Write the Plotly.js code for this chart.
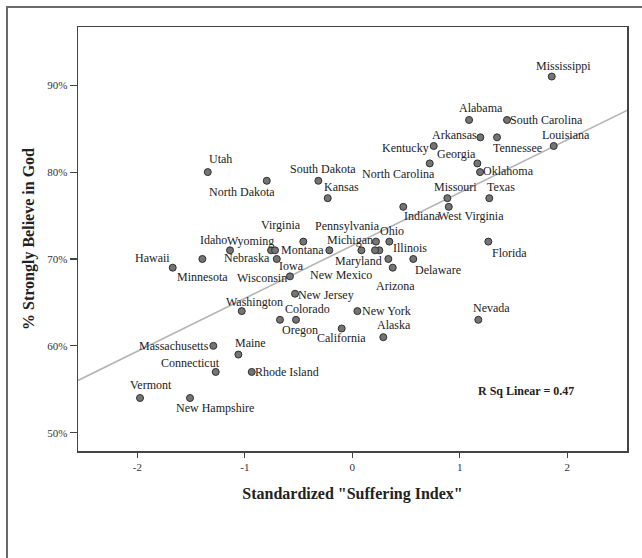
<!DOCTYPE html>
<html>
<head>
<meta charset="utf-8">
<script src="https://cdn.plot.ly/plotly-3.0.1.min.js"></script>
<style>
  html, body { margin: 0; padding: 0; background: #fff; }
  #wrap { position: relative; width: 642px; height: 558px; overflow: hidden; }
  #frame { position: absolute; left: 6px; top: 6px; width: 700px; height: 700px;
           border-left: 2px solid #6a6a6a; border-top: 2px solid #6a6a6a; pointer-events: none; z-index: 2; }
  #chart { position: absolute; left: 0; top: 0; width: 642px; height: 558px; }
</style>
</head>
<body>
<div id="wrap"><div id="chart"></div><div id="frame"></div></div>
<script>
// ---- data ----
const states = ["Mississippi","Alabama","South Carolina","Arkansas","Tennessee","Louisiana","Kentucky","North Carolina","Georgia","Oklahoma",
  "South Dakota","Kansas","Missouri","Texas","Indiana","West Virginia","Utah","North Dakota","Virginia","Idaho",
  "Wyoming","Nebraska","Iowa","Montana","Hawaii","Minnesota","Wisconsin","Washington","Colorado","Oregon",
  "New Jersey","New York","Alaska","California","Nevada","Florida","Pennsylvania","Ohio","Michigan","Illinois",
  "New Mexico","Maryland","Arizona","Delaware","Massachusetts","Maine","Connecticut","Rhode Island","Vermont","New Hampshire"];
const sufferingIndex = [1.855,1.086,1.439,1.191,1.346,1.873,0.757,0.720,1.163,1.188,
  -0.316,-0.229,0.884,1.274,0.474,0.897,-1.345,-0.796,-0.456,-1.138,
  -0.756,-0.719,-0.703,-0.214,-1.671,-1.395,-0.580,-1.029,-0.524,-0.673,
  -0.533,0.047,0.288,-0.099,1.172,1.265,0.220,0.344,0.084,0.251,
  0.211,0.335,0.376,0.567,-1.293,-1.060,-1.271,-0.936,-1.975,-1.510];
const believeGod = [91,86,86,84,84,83,83,81,81,80,
  79,77,77,77,76,76,80,79,72,71,
  71,71,70,71,69,70,68,64,63,63,
  66,64,61,62,63,72,72,72,71,71,
  71,70,69,70,60,59,57,57,54,54];
const yTickVals = [50,60,70,80,90];
const yTickLabels = ["50%","60%","70%","80%","90%"];
const xTickVals = [-2,-1,0,1,2];
const xTickLabels = ["-2","-1","0","1","2"];
const rSqText = "R Sq Linear = 0.47";

// ---- styling: label placement offsets (px, right / down) ----
const labelOffset = {
  "Mississippi":[12,-11],"Alabama":[12,-12],"South Carolina":[39,0],"Arkansas":[-26,-2],"Tennessee":[20,11],
  "Louisiana":[12,-11],"Kentucky":[-28,2],"North Carolina":[-31,11],"Georgia":[-21,-9],"Oklahoma":[28,-1],
  "South Dakota":[5,-12],"Kansas":[14,-11],"Missouri":[8,-11],"Texas":[12,-11],"Indiana":[19,9],
  "West Virginia":[22,9],"Utah":[13,-13],"North Dakota":[-25,11],"Virginia":[-22,-17],"Idaho":[-17,-10],
  "Wyoming":[-21,-9],"Nebraska":[-28,8],"Iowa":[15,7],"Montana":[-27,0],"Hawaii":[-20,-10],
  "Minnesota":[0,18],"Wisconsin":[-28,2],"Washington":[13,-9],"Colorado":[11,-11],"Oregon":[20,10],
  "New Jersey":[31,1],"New York":[29,0],"Alaska":[11,-12],"California":[0,10],"Nevada":[13,-12],
  "Florida":[21,11],"Pennsylvania":[-28,-16],"Ohio":[3,-11],"Michigan":[-11,-10],"Illinois":[31,-2],
  "New Mexico":[-34,25],"Maryland":[-30,2],"Arizona":[3,18],"Delaware":[25,11],"Massachusetts":[-39,0],
  "Maine":[12,-12],"Connecticut":[-25,-9],"Rhode Island":[35,0],"Vermont":[11,-13],"New Hampshire":[25,10]
};

const xRange = [-2.552, 2.555];
const yRange = [47.9, 96.7];

// least-squares fit line computed from the data
const n = sufferingIndex.length;
const mx = sufferingIndex.reduce((a,b)=>a+b,0)/n;
const my = believeGod.reduce((a,b)=>a+b,0)/n;
let sxy = 0, sxx = 0;
for (let i=0;i<n;i++){ sxy += (sufferingIndex[i]-mx)*(believeGod[i]-my); sxx += (sufferingIndex[i]-mx)**2; }
const slope = sxy/sxx, intercept = my - slope*mx;
const fitX = xRange.slice();
const fitY = fitX.map(x => intercept + slope*x);

const serif = "Liberation Serif, Times New Roman, serif";

const traces = [
  { x: fitX, y: fitY, mode: "lines", type: "scatter", line: {color: "#b4b4b4", width: 1.6}, hoverinfo: "skip", showlegend: false },
  { x: sufferingIndex, y: believeGod, text: states, mode: "markers", type: "scatter",
    marker: {size: 7, color: "#747474", line: {color: "#303030", width: 1}}, showlegend: false }
];

const annotations = states.map((s,i) => ({
  x: sufferingIndex[i], y: believeGod[i], xref: "x", yref: "y", text: s, showarrow: false,
  xanchor: "center", yanchor: "middle",
  xshift: labelOffset[s][0], yshift: -labelOffset[s][1],
  font: {family: serif, size: 12, color: "#222"}
}));
annotations.push({ x: 1.62, y: 54.83, xref: "x", yref: "y", text: "<b>" + rSqText + "</b>", showarrow: false,
  xanchor: "center", yanchor: "middle", font: {family: serif, size: 12, color: "#222"} });

const layout = {
  width: 642, height: 558,
  margin: {l: 78, r: 15, t: 27, b: 107},
  paper_bgcolor: "#fff", plot_bgcolor: "#fff",
  showlegend: false,
  xaxis: {
    range: xRange, tickmode: "array", tickvals: xTickVals, ticktext: xTickLabels,
    ticks: "outside", ticklen: 5, tickwidth: 1.2, tickcolor: "#444",
    showgrid: false, zeroline: false, showline: true, mirror: true, linecolor: "#444", linewidth: 1.5,
    tickfont: {family: serif, size: 11, color: "#333"},
    title: {text: "<b>Standardized \"Suffering Index\"</b>", font: {family: serif, size: 16, color: "#222"}, standoff: 16}
  },
  yaxis: {
    range: yRange, tickmode: "array", tickvals: yTickVals, ticktext: yTickLabels,
    ticks: "outside", ticklen: 7, tickwidth: 1.2, tickcolor: "#444",
    showgrid: false, zeroline: false, showline: true, mirror: true, linecolor: "#444", linewidth: 1.5,
    tickfont: {family: serif, size: 11, color: "#333"},
    title: {text: "<b>% Strongly Believe in God</b>", font: {family: serif, size: 16, color: "#222"}, standoff: 8}
  },
  annotations: annotations
};

Plotly.newPlot("chart", traces, layout, {displayModeBar: false, staticPlot: true});
</script>
</body>
</html>
